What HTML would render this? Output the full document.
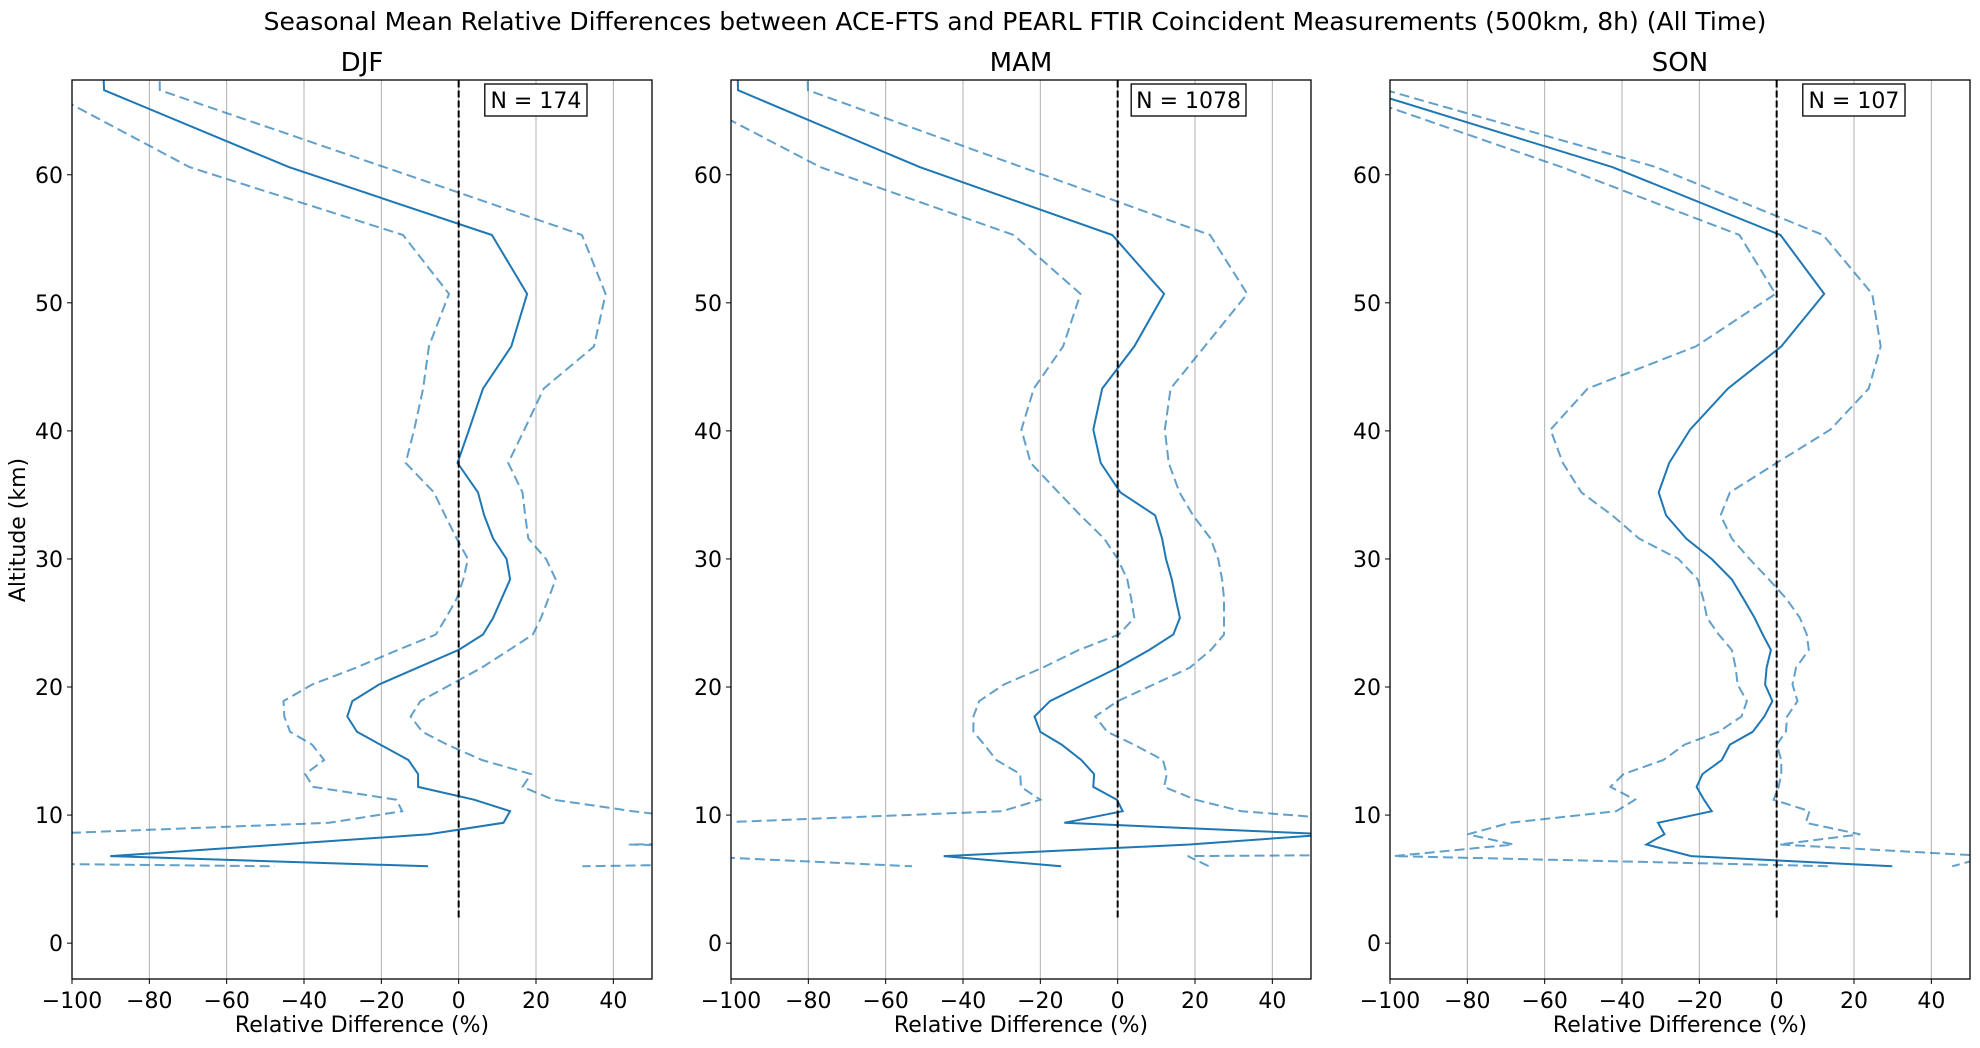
<!DOCTYPE html>
<html><head><meta charset="utf-8">
<style>
html,body{margin:0;padding:0;background:#fff;}
svg text{font-family:"DejaVu Sans","Liberation Sans",sans-serif;fill:#000;}
</style></head>
<body>
<svg id="chart" width="1980" height="1043" viewBox="0 0 1980 1043" xmlns="http://www.w3.org/2000/svg">
<rect width="1980" height="1043" fill="#fff"/>
<text x="1015" y="30" font-size="25" text-anchor="middle">Seasonal Mean Relative Differences between ACE-FTS and PEARL FTIR Coincident Measurements (500km, 8h) (All Time)</text>
<text transform="translate(25,530) rotate(-90)" font-size="22" text-anchor="middle">Altitude (km)</text>
<g id="panels"></g>
</svg>
<script>
const altitudes = [72,66.6,60.6,55.3,50.7,46.6,43.3,40.1,37.5,35.2,33.4,31.6,30.0,28.4,26.9,25.4,24.1,22.9,21.5,20.2,18.9,17.7,16.5,15.5,14.3,13.2,12.2,11.2,10.3,9.4,8.5,7.7,6.8,6.0];
const seasons = ["DJF","MAM","SON"];
const counts = [174,1078,107];
const djfMean = [-92.5,-91.7,-43.9,8.6,17.7,13.6,6.3,2.7,-0.3,5.0,6.6,8.9,12.4,13.3,11.1,8.9,6.3,0,-10.7,-20.6,-27.5,-28.8,-26.3,-20.3,-13.0,-10.5,-10.5,4.0,13.3,11.6,-7.7,-46,-90.1,-7.9];
const djfUpper = [-77.5,-77.3,-19.2,31.9,38.0,35.0,22.0,17,12.8,16.5,17.2,18.0,22.6,25.1,23.2,21.3,19.2,13.1,5.9,-2,-9.9,-12.4,-9.4,-3,6,18.7,16.5,24.5,45,70,300,44,200,32];
const djfLower = [-130,-107,-69.6,-14.4,-2.5,-7.7,-9.2,-11.5,-13.7,-6.4,-3.5,-0.5,2.4,1.2,-0.5,-3.3,-5.9,-15.7,-26.6,-37.9,-45.3,-45.1,-43.6,-37.9,-34.8,-39.7,-37.6,-16.1,-14.6,-33.5,-110,-300,-300,-47.5];
const mamMean = [-98.5,-98.2,-51.2,-1.4,12.0,4.3,-4.0,-6.3,-4.4,0.7,9.7,11.5,12.5,14.0,15.0,16.1,14.4,8.2,0,-8.8,-17.5,-21.5,-20.0,-14.5,-9.4,-6.1,-6.3,-0.2,1.3,-13.8,55,18.6,-45,-14.6];
const mamUpper = [-80.5,-80.1,-24.8,23.9,33.5,22.5,13.7,12.2,13.2,16,19.5,24.0,26.0,27,27.5,27.5,27.5,24.1,18.6,9.3,0,-5.8,-2.7,4.2,11.7,12.7,12.0,20.1,32.0,70,200,500,18.1,23.6];
const mamLower = [-140,-115,-76.9,-26.9,-9.6,-14.1,-21.7,-24.9,-22.5,-15.3,-9.6,-3.5,0,2.5,3.5,4.3,0.3,-10,-19.5,-29.4,-35.8,-37.3,-37.3,-34.5,-31.4,-25.2,-25,-20,-29.9,-105,-400,-400,-110,-53.2];
const sonMean = [-150,-107,-42.5,1.0,12.3,1.2,-12.6,-22.4,-27.8,-30.5,-28.6,-23.4,-16.8,-11.6,-8.6,-5.7,-3.6,-1.5,-2.6,-3.0,-1.1,-3.2,-6.2,-12.1,-14.2,-19.2,-20.7,-18.8,-16.8,-30.7,-29,-33.7,-22.1,29.9];
const sonUpper = [-140,-101,-31.2,12.0,24.7,26.9,23.8,13.9,0,-12.1,-14.5,-11.6,-7,-2,2.5,6,7.8,8.3,5,4.1,5.4,2.7,2.4,0,1.2,1.2,0.5,-0.8,8.5,7.5,21.6,0.7,55,45.4];
const sonLower = [-160,-113,-55.6,-9.6,-0.3,-20.9,-48.9,-58.5,-55.3,-50.5,-42.5,-35.6,-25.4,-20.4,-19,-18,-15,-11.6,-10.6,-10.1,-7.7,-9.1,-15,-23.8,-29.3,-39.6,-43,-36.6,-41.5,-69,-79.9,-68.1,-99,14];
const xTicks = [-100,-80,-60,-40,-20,0,20,40];
const yTicks = [0,10,20,30,40,50,60];

const series = [[djfMean,djfUpper,djfLower],[mamMean,mamUpper,mamLower],[sonMean,sonUpper,sonLower]];
const NS = "http://www.w3.org/2000/svg";
const lefts = [72,731,1390];
const W = 580, TOP = 80, BOT = 979;
const XMIN = -100, XMAX = 50, YMIN = -2.8, YMAX = 67.4;
function mk(tag, attrs, parent){const e=document.createElementNS(NS,tag);for(const k in attrs)e.setAttribute(k,attrs[k]);parent.appendChild(e);return e;}
const root = document.getElementById("panels");
const defs = mk("defs",{},root);

seasons.forEach((s,i)=>{
  const L = lefts[i];
  const xs = v => L + (v - XMIN)/(XMAX - XMIN)*W;
  const ys = a => BOT - (a - YMIN)/(YMAX - YMIN)*(BOT - TOP);
  const g = mk("g",{},root);
  
  
  const cp = mk("clipPath",{id:"clip"+i},defs);
  mk("rect",{x:L,y:TOP,width:W,height:BOT-TOP},cp);
  xTicks.forEach(t=>{
    const gl = mk("line",{x1:xs(t),x2:xs(t),y1:TOP,y2:BOT,stroke:"#b0b0b0","stroke-width":1},g);
    
    
    const tk = mk("line",{x1:xs(t),x2:xs(t),y1:BOT,y2:BOT+5,stroke:"#000","stroke-width":1},g);
    
    
    const tl = mk("text",{x:xs(t),y:BOT+29,"font-size":22,"text-anchor":"middle"},g);
    tl.textContent = t<0 ? "\u2212"+Math.abs(t) : String(t);
    
    
  });
  yTicks.forEach(t=>{
    const tk = mk("line",{x1:L-5,x2:L,y1:ys(t),y2:ys(t),stroke:"#000","stroke-width":1},g);
    
    
    const tl = mk("text",{x:L-9,y:ys(t)+8,"font-size":22,"text-anchor":"end"},g);
    tl.textContent = String(t);
    
    
  });
  const pg = mk("g",{"clip-path":"url(#clip"+i+")"},g);
  const [m,u,lo] = series[i];
  const pts = arr => arr.map((v,k)=>xs(v).toFixed(1)+","+ys(altitudes[k]).toFixed(1)).join(" ");
  const up = mk("polyline",{points:pts(u),fill:"none",stroke:"#1f77b4","stroke-opacity":0.7,"stroke-width":2,"stroke-dasharray":"10,5"},pg);
  
  
  const lw = mk("polyline",{points:pts(lo),fill:"none",stroke:"#1f77b4","stroke-opacity":0.7,"stroke-width":2,"stroke-dasharray":"10,5"},pg);
  
  
  const ml = mk("polyline",{points:pts(m),fill:"none",stroke:"#1f77b4","stroke-width":2},pg);
  
  
  const zl = mk("line",{x1:xs(0),x2:xs(0),y1:ys(2),y2:TOP,stroke:"#000","stroke-width":2,"stroke-dasharray":"7,3"},pg);
  
  
  const fr = mk("rect",{x:L,y:TOP,width:W,height:BOT-TOP,fill:"none",stroke:"#000","stroke-width":1.3},g);
  
  
  const title = mk("text",{x:L+W/2,y:71,"font-size":26,"text-anchor":"middle"},g);
  title.textContent = s;
  
  
  const xl = mk("text",{x:L+W/2,y:1032,"font-size":22,"text-anchor":"middle"},g);
  xl.textContent = "Relative Difference (%)";
  
  
  const label = "N = "+counts[i];
  const bw = label.length*12.6+14;
  const bx = L+W-65-bw;
  const box = mk("rect",{x:bx,y:84,width:bw,height:32,fill:"#fff",stroke:"#000","stroke-width":1.3},g);
  
  
  const nt = mk("text",{x:bx+bw/2,y:108,"font-size":22,"text-anchor":"middle"},g);
  nt.textContent = label;
  
  
});
</script>
</body></html>
